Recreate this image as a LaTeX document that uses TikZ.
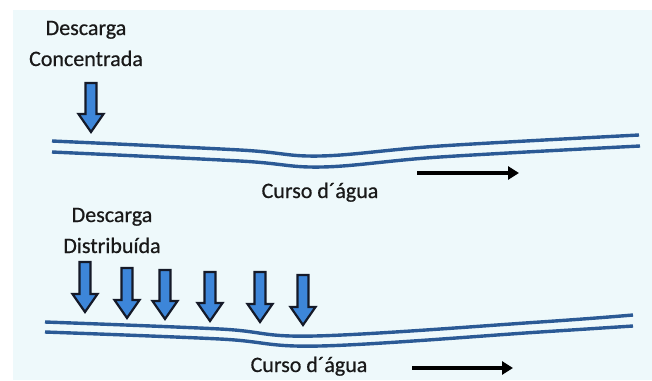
\documentclass[tikz,border=0pt]{standalone}
\usepackage{fontspec}
\setmainfont{Carlito}[FakeBold=0.6]
\usetikzlibrary{arrows.meta}
\definecolor{bgc}{HTML}{EEF9FB}
\definecolor{river}{HTML}{2B5A95}
\definecolor{arrfill}{HTML}{3D86D9}
\definecolor{arrline}{HTML}{151A28}
\newcommand{\dnarrow}[3]{%
  \filldraw[dnstyle] (#1-5.5,#2) -- (#1+5.5,#2) -- (#1+5.5,#3-18) -- (#1+12.5,#3-18) -- (#1,#3) -- (#1-12.5,#3-18) -- (#1-5.5,#3-18) -- cycle;}
\begin{document}
\begin{tikzpicture}[x=1pt,y=-1pt,
  lbl/.style={anchor=base,inner sep=0pt,text=black!90,font=\fontsize{22}{26}\selectfont},
  riverline/.style={draw=river,line width=3.4pt},
  dnstyle/.style={fill=arrfill,draw=arrline,line width=2.2pt,line join=miter},
  flow/.style={line width=3.2pt,-{Triangle[length=11pt,width=13pt]}}]
\useasboundingbox (0,0) rectangle (652,380);
\fill[bgc] (13,10) rectangle (652,380);
% top
\node[lbl] (t1) at (86,35) {Descarga};
\node[lbl] (t2) at (86,66) {Concentrada};
\dnarrow{91}{83}{132}
\draw[riverline] plot[smooth,tension=0.6] coordinates {(52,141) (240,150) (320,156) (440,146) (639,135)};
\draw[riverline] plot[smooth,tension=0.6] coordinates {(52,152) (240,161) (322,167) (440,157) (640,146)};
\node[lbl] (c1) at (320,198) {Curso d´água};
\coordinate (a1s) at (417,173);
\coordinate (a1e) at (519,173);
\draw[flow] (a1s) -- (a1e);
% bottom
\node[lbl] (b1) at (112,222) {Descarga};
\node[lbl] (b2) at (112,253) {Distribuída};
\dnarrow{85}{262}{312}
\dnarrow{127}{268}{318}
\dnarrow{165}{270}{319}
\dnarrow{210}{272}{321}
\dnarrow{260}{272}{322}
\dnarrow{303}{275}{325}
\draw[riverline] plot[smooth,tension=0.6] coordinates {(45,322) (220,329) (315,336) (540,322) (633,315)};
\draw[riverline] plot[smooth,tension=0.6] coordinates {(45,332) (220,339) (320,346) (540,332) (633,326)};
\node[lbl] (c2) at (309,372) {Curso d´água};
\coordinate (a2s) at (412,368);
\coordinate (a2e) at (513,368);
\draw[flow] (a2s) -- (a2e);
\end{tikzpicture}
\end{document}
